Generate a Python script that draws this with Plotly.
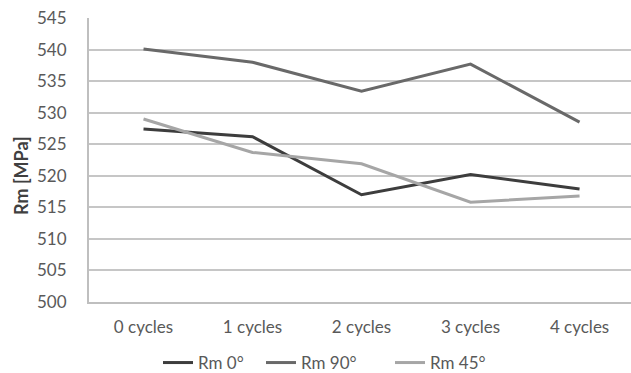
import plotly.graph_objects as go

# Tensile strength by number of cycles
categories = ["0 cycles", "1 cycles", "2 cycles", "3 cycles", "4 cycles"]
rm_0 = [527.4, 526.2, 517.0, 520.2, 517.9]
rm_90 = [540.1, 538.0, 533.4, 537.7, 528.5]
rm_45 = [529.0, 523.7, 521.9, 515.8, 516.8]
y_ticks = [500, 505, 510, 515, 520, 525, 530, 535, 540, 545]

series = [
    ("Rm 0°", rm_0, "#3d3d3d", "legend2"),
    ("Rm 90°", rm_90, "#696969", "legend3"),
    ("Rm 45°", rm_45, "#a6a6a6", "legend4"),
]

font_family = "Lato, 'Open Sans', sans-serif"
text_color = "#595959"

fig = go.Figure()
for name, vals, color, leg in series:
    fig.add_trace(go.Scatter(
        x=list(range(len(categories))), y=vals, name=name, mode="lines",
        line=dict(color=color, width=3), legend=leg, showlegend=True,
    ))

W, H = 631, 373
ml, mr, mt, mb = 89, 0, 18, 71

leg_common = dict(
    orientation="h", yanchor="middle", y=(H - 363 - mb) / (H - mt - mb),
    xanchor="left", font=dict(family=font_family, size=17, color=text_color),
    bgcolor="rgba(0,0,0,0)", borderwidth=0, itemwidth=30,
)

def px_x(px):
    return (px - ml) / (W - ml - mr)

fig.update_layout(
    width=W, height=H,
    margin=dict(l=ml, r=mr, t=mt, b=mb, autoexpand=False),
    paper_bgcolor="white", plot_bgcolor="white",
    font=dict(family=font_family, size=17, color=text_color),
    xaxis=dict(
        tickmode="array", tickvals=list(range(len(categories))), ticktext=categories,
        range=[-0.5, 4.472], showgrid=False, zeroline=False,
        showline=True, linecolor="#bfbfbf", linewidth=2,
        ticks="", ticklabelstandoff=9,
        tickfont=dict(family=font_family, size=17, color=text_color),
    ),
    yaxis=dict(
        range=[500, 545], tickvals=y_ticks, showgrid=True, gridcolor="#c6c6c6", gridwidth=2,
        zeroline=False, showline=True, linecolor="#bfbfbf", linewidth=2,
        ticks="", ticklabelstandoff=17,
        tickfont=dict(family=font_family, size=17, color=text_color),
    ),
    showlegend=True,
    legend2=dict(leg_common, x=px_x(158)),
    legend3=dict(leg_common, x=px_x(261)),
    legend4=dict(leg_common, x=px_x(390)),
    annotations=[dict(
        text="<b>Rm [MPa]</b>", textangle=-90, xref="paper", yref="paper",
        x=px_x(21), y=(H - 176 - mb) / (H - mt - mb),
        xanchor="center", yanchor="middle", showarrow=False,
        font=dict(family=font_family, size=18, color="#404040"),
    )],
)

fig.write_html("out.html")
